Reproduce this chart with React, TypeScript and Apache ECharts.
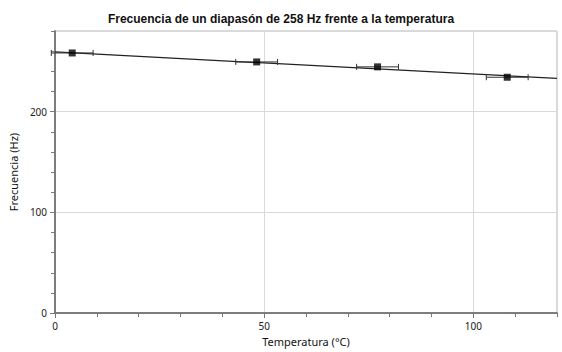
import React, { useEffect, useRef } from "react";
import * as echarts from "echarts";

const titleText = "Frecuencia de un diapasón de 258 Hz frente a la temperatura";
const xName = "Temperatura (°C)";
const yName = "Frecuencia (Hz)";

// measured points: temperature (°C), frequency (Hz)
const temps = [4.1, 48.2, 77.1, 108.1];
const freqs = [258.2, 249.3, 244.4, 234.1];
const tempErr = [5, 5, 5, 5];

// fitted line endpoints
const fitX = [0, 120];
const fitY = [259.2, 232.9];

const xMin = 0;
const xMax = 120;
const yMin = 0;
const yMax = 280;

export default function App() {
  const ref = useRef<HTMLDivElement>(null);
  useEffect(() => {
    if (!ref.current) return;
    const chart = echarts.init(ref.current, undefined, { renderer: "svg" });
    const axisColor = "#777777";
    const font = "'Noto Sans', sans-serif";
    const pts = temps.map((t, i) => [t, freqs[i]]);
    const errData = temps.map((t, i) => [t, freqs[i], t - tempErr[i], t + tempErr[i]]);
    const fitData = fitX.map((x, i) => [x, fitY[i]]);
    chart.setOption({
      animation: false,
      backgroundColor: "#ffffff",
      title: {
        text: titleText,
        left: "center",
        top: 8,
        textStyle: { fontFamily: "'Liberation Sans', Arial, sans-serif", fontSize: 12, fontWeight: "bold", color: "#111" },
      },
      grid: { left: 55, right: 5, top: 31, bottom: 37, show: true, borderColor: "#b5b5b5", borderWidth: 1, backgroundColor: "transparent" },
      xAxis: [
        {
          type: "value",
          min: xMin,
          max: xMax,
          interval: 50,
          name: xName,
          nameLocation: "middle",
          nameGap: 21,
          nameTextStyle: { fontFamily: font, fontSize: 11, color: "#111" },
          axisLine: { show: true, onZero: false, lineStyle: { color: axisColor, width: 1.5 } },
          axisTick: { show: true, length: 5, lineStyle: { color: axisColor, width: 1 } },
          axisLabel: { showMaxLabel: false, margin: 8, fontFamily: font, fontSize: 10, color: "#222" },
          splitLine: { show: true, lineStyle: { color: "#d9d9d9", width: 1 } },
        },
        {
          type: "value",
          min: xMin,
          max: xMax,
          interval: 10,
          position: "bottom",
          offset: 0,
          axisLine: { show: true, onZero: false, lineStyle: { color: axisColor, width: 1.5 } },
          axisTick: { show: true, length: 4, lineStyle: { color: axisColor, width: 1 } },
          axisLabel: { show: false },
          splitLine: { show: false },
        },
      ],
      yAxis: [
        {
          type: "value",
          min: yMin,
          max: yMax,
          interval: 100,
          name: yName,
          nameLocation: "middle",
          nameGap: 34,
          nameTextStyle: { fontFamily: font, fontSize: 11, color: "#111" },
          axisLine: { show: true, onZero: false, lineStyle: { color: axisColor, width: 1.5 } },
          axisTick: { show: true, length: 5, lineStyle: { color: axisColor, width: 1 } },
          axisLabel: { showMaxLabel: false, margin: 8, fontFamily: font, fontSize: 10, color: "#222" },
          splitLine: { show: true, lineStyle: { color: "#d9d9d9", width: 1 } },
        },
        {
          type: "value",
          min: yMin,
          max: yMax,
          interval: 20,
          position: "left",
          offset: 0,
          axisLine: { show: true, onZero: false, lineStyle: { color: axisColor, width: 1.5 } },
          axisTick: { show: true, length: 4, lineStyle: { color: axisColor, width: 1 } },
          axisLabel: { show: false },
          splitLine: { show: false },
        },
      ],
      series: [
        { type: "line", data: fitData, symbol: "none", lineStyle: { color: "#222", width: 1.2 }, z: 2 },
        {
          type: "custom",
          data: errData,
          clip: false,
          z: 3,
          renderItem: (params: any, api: any) => {
            const y = api.value(1);
            const lo = api.coord([api.value(2), y]);
            const hi = api.coord([api.value(3), y]);
            const cap = 3;
            const style = { stroke: "#333", lineWidth: 1 };
            return {
              type: "group",
              children: [
                { type: "line", shape: { x1: lo[0], y1: lo[1], x2: hi[0], y2: hi[1] }, style },
                { type: "line", shape: { x1: lo[0], y1: lo[1] - cap, x2: lo[0], y2: lo[1] + cap }, style },
                { type: "line", shape: { x1: hi[0], y1: hi[1] - cap, x2: hi[0], y2: hi[1] + cap }, style },
              ],
            };
          },
        },
        { type: "scatter", data: pts, symbol: "rect", symbolSize: 7, itemStyle: { color: "#000" }, z: 4 },
      ],
    });
    return () => chart.dispose();
  }, []);
  return <div ref={ref} style={{ width: 562, height: 352, position: "absolute", left: 0, top: 0 }} />;
}
